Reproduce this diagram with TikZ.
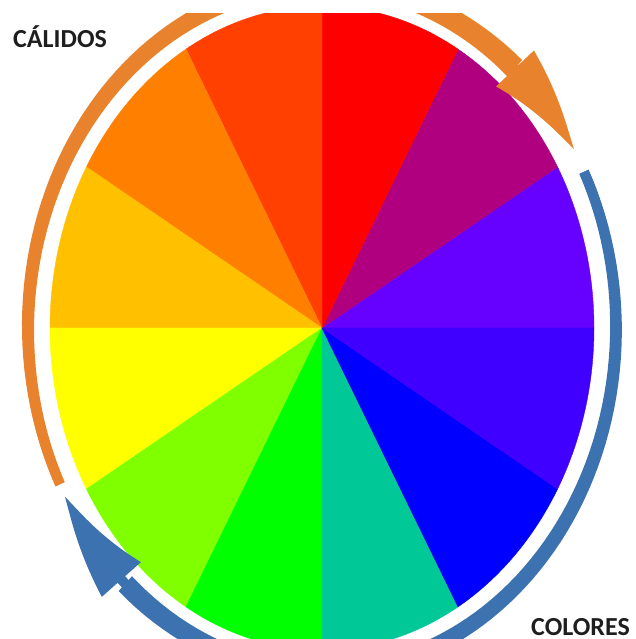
\documentclass[tikz,border=0pt]{standalone}
\usepackage{fontspec}
\setsansfont{Carlito}
\usetikzlibrary{arrows.meta,bending}
\definecolor{wheelviolet}{RGB}{102,0,255}
\definecolor{wheelmagenta}{RGB}{176,0,128}
\definecolor{wheelred}{RGB}{255,0,0}
\definecolor{wheelredorange}{RGB}{255,64,0}
\definecolor{wheelorange}{RGB}{255,128,0}
\definecolor{wheelamber}{RGB}{255,192,0}
\definecolor{wheelyellow}{RGB}{255,255,0}
\definecolor{wheelchartreuse}{RGB}{128,255,0}
\definecolor{wheelgreen}{RGB}{0,255,0}
\definecolor{wheelteal}{RGB}{0,200,150}
\definecolor{wheelblue}{RGB}{0,0,255}
\definecolor{wheelindigo}{RGB}{64,0,255}
\definecolor{ringorange}{RGB}{232,130,44}
\definecolor{ringblue}{RGB}{60,114,176}
\definecolor{inkblack}{RGB}{30,30,30}
\tikzset{
  ringarrow/.style={line width=10pt,
    -{Triangle[length=106pt,width=49pt,bend]}},
  warmring/.style={ringarrow,draw=ringorange},
  coolring/.style={ringarrow,draw=ringblue},
  ringlabel/.style={font=\sffamily\bfseries\fontsize{26}{30}\selectfont,
    text=inkblack,inner sep=0pt},
  declare function={warmw(\t)=10+12*(207-\t)/157;
                    coolw(\t)=10+10*(27-\t)/159;}
}

\begin{document}
\begin{tikzpicture}[x=1pt,y=1pt]
  \useasboundingbox (0,0) rectangle (635,639);
  \coordinate (centre) at (322,311);
  \begin{scope}
    \clip (0,0) rectangle (635,625);
    % colour wheel, twelve sectors
    \foreach \col [count=\i from 0] in {wheelviolet,wheelmagenta,wheelred,
        wheelredorange,wheelorange,wheelamber,wheelyellow,wheelchartreuse,
        wheelgreen,wheelteal,wheelblue,wheelindigo}{
      \pgfmathsetmacro{\a}{\i*30}
      \filldraw[\col,line width=0.4pt] (centre) -- ++(\a:272 and 322)
        arc[start angle=\a,end angle=\a+30,x radius=272,y radius=322] -- cycle;
    }
    % warm and cool arrows round the wheel, shafts widen toward the head
    \fill[ringorange]
      plot[domain=207:49,samples=80] ({322+(294+warmw(\x)/2)*cos(\x)},{311+(344+warmw(\x)/2)*sin(\x)})
      -- plot[domain=49:207,samples=80] ({322+(294-warmw(\x)/2)*cos(\x)},{311+(344-warmw(\x)/2)*sin(\x)})
      -- cycle;
    \draw[warmring] ([shift={(207:294 and 344)}]centre)
      arc[start angle=207,end angle=31,x radius=294,y radius=344];
    \fill[ringblue]
      plot[domain=27:-132,samples=80] ({322+(294+coolw(\x)/2)*cos(\x)},{311+(344+coolw(\x)/2)*sin(\x)})
      -- plot[domain=-132:27,samples=80] ({322+(294-coolw(\x)/2)*cos(\x)},{311+(344-coolw(\x)/2)*sin(\x)})
      -- cycle;
    \draw[coolring] ([shift={(27:294 and 344)}]centre)
      arc[start angle=27,end angle=-151,x radius=294,y radius=344];
  \end{scope}
  \node[ringlabel,anchor=base west] (calidos) at (13,591) {CÁLIDOS};
  \node[ringlabel,anchor=south west] (colores) at (531,3) {COLORES};
\end{tikzpicture}
\end{document}
